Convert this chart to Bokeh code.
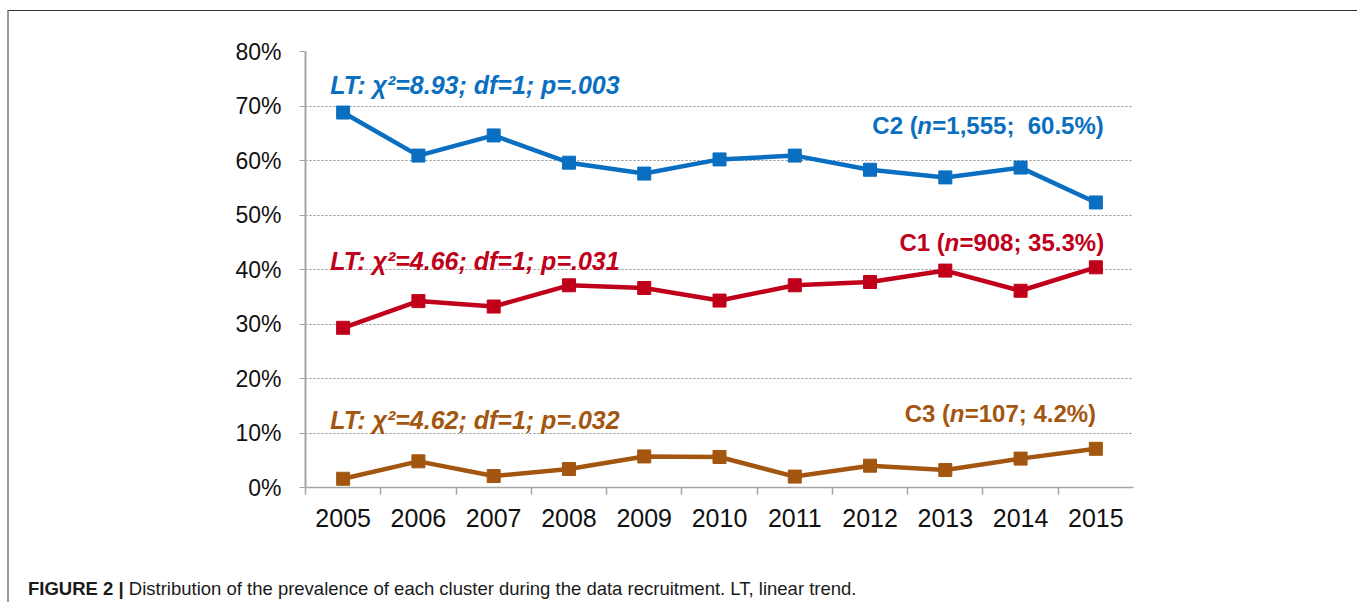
from bokeh.plotting import figure
from bokeh.models import Range1d, FixedTicker, Label, CustomJSTickFormatter, Div
from bokeh.layouts import column
from bokeh.embed import file_html
from bokeh.resources import INLINE

# ---- data ----
years = [2005, 2006, 2007, 2008, 2009, 2010, 2011, 2012, 2013, 2014, 2015]
c2 = [68.8, 60.9, 64.6, 59.6, 57.6, 60.2, 60.9, 58.3, 56.9, 58.7, 52.3]
c1 = [29.3, 34.2, 33.2, 37.1, 36.6, 34.3, 37.1, 37.7, 39.8, 36.1, 40.4]
c3 = [1.6, 4.8, 2.1, 3.4, 5.7, 5.6, 2.0, 4.0, 3.2, 5.3, 7.1]
y_ticks = [0, 10, 20, 30, 40, 50, 60, 70, 80]
lt_texts = ["LT: \u03c7\u00b2=8.93; df=1; p=.003",
            "LT: \u03c7\u00b2=4.66; df=1; p=.031",
            "LT: \u03c7\u00b2=4.62; df=1; p=.032"]
cluster_names = ["C2 (", "C1 (", "C3 ("]
cluster_rest = ["=1,555;\u00a0 60.5%)", "=908; 35.3%)", "=107; 4.2%)"]
caption_bold = "FIGURE 2 |"
caption_text = "Distribution of the prevalence of each cluster during the data recruitment. LT, linear trend."

BLUE = "#0A6FC0"
RED = "#C0001A"
BROWN = "#A3560F"
FONT = "Liberation Sans"

W, H = 1345, 540
p = figure(width=W, height=H, output_backend="svg", toolbar_location=None,
           x_range=Range1d(2004.5, 2015.5), y_range=Range1d(0, 80),
           min_border_left=296, min_border_right=221,
           min_border_top=40, min_border_bottom=64)
p.outline_line_color = None
p.background_fill_color = "white"
p.border_fill_color = "white"

# axes
xa = p.xaxis[0]
xa.ticker = FixedTicker(ticks=years, minor_ticks=[y - 0.5 for y in years])
xa.axis_line_color = "#a6a6a6"
xa.axis_line_width = 1.5
xa.major_tick_out = 0
xa.major_tick_in = 0
xa.minor_tick_out = 7
xa.minor_tick_in = 0
xa.minor_tick_line_color = "#a6a6a6"
xa.minor_tick_line_width = 1.5
xa.major_label_text_font = FONT
xa.major_label_text_font_size = "25px"
xa.major_label_text_color = "#111111"
xa.major_label_standoff = 14

ya = p.yaxis[0]
ya.ticker = FixedTicker(ticks=y_ticks)
ya.formatter = CustomJSTickFormatter(code="return tick.toFixed(0) + '%';")
ya.axis_line_color = "#a6a6a6"
ya.axis_line_width = 2
ya.major_tick_out = 6
ya.major_tick_in = 0
ya.major_tick_line_color = "#a6a6a6"
ya.minor_tick_line_color = None
ya.major_label_text_font = FONT
ya.major_label_text_font_size = "23px"
ya.major_label_text_color = "#111111"
ya.major_label_standoff = 18

p.xgrid.grid_line_color = None
p.ygrid.grid_line_color = "#8f8f8f"
p.ygrid.grid_line_dash = "2 2"
p.ygrid.grid_line_width = 1

# series
for vals, col in [(c2, BLUE), (c1, RED), (c3, BROWN)]:
    p.line(years, vals, line_color=col, line_width=4.5)
    p.scatter(years, vals, marker="square", size=13, fill_color=col, line_color=col)

# LT annotations
lt_pos = [(2004.83, 73.8), (2004.83, 41.6), (2004.83, 12.4)]
cols = [BLUE, RED, BROWN]
for txt, (lx, ly), col in zip(lt_texts, lt_pos, cols):
    p.add_layout(Label(x=lx, y=ly, text=txt, text_font=FONT, text_font_size="25px",
                       text_font_style="bold italic", text_color=col,
                       text_baseline="alphabetic", text_align="left"))

# cluster labels
cl_pos = [(2012.03, 66.4), (2012.39, 45.0), (2012.46, 13.5)]
for name, rest, (lx, ly), col in zip(cluster_names, cluster_rest, cl_pos, cols):
    p.add_layout(Label(x=lx, y=ly, text=name, text_font=FONT, text_font_size="24px",
                       text_font_style="bold", text_color=col,
                       text_baseline="alphabetic", text_align="left"))
    p.add_layout(Label(x=lx, y=ly, x_offset=45, text="n", text_font=FONT, text_font_size="24px",
                       text_font_style="bold italic", text_color=col,
                       text_baseline="alphabetic", text_align="left"))
    p.add_layout(Label(x=lx, y=ly, x_offset=60, text=rest, text_font=FONT, text_font_size="24px",
                       text_font_style="bold", text_color=col,
                       text_baseline="alphabetic", text_align="left"))

# caption
cap = Div(width=W, height=45,
          text=('<div style="padding:20px 0 0 14px; font-family:\'Liberation Sans\'; '
                'font-size:18.5px; color:#1a1a1a; white-space:nowrap;">'
                '<span style="font-weight:bold;">' + caption_bold + '</span> '
                + caption_text + '</div>'))

layout = column(p, cap, spacing=0)
layout.styles = {"margin-left": "7px", "margin-top": "10px",
                 "border-top": "1px solid #333333",
                 "border-left": "2px solid #9a9a9a",
                 "border-right": "2px solid #9a9a9a"}

open("out.html", "w").write(file_html(layout, INLINE))
